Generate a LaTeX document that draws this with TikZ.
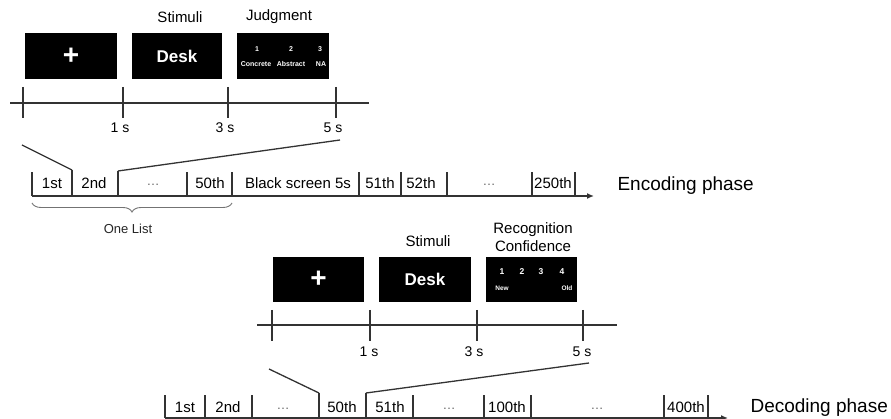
\documentclass[tikz,border=0pt]{standalone}
\usepackage{fontspec}
\setmainfont{Liberation Sans}
\usetikzlibrary{arrows.meta,decorations.pathreplacing}
\tikzset{
  screen/.style={fill=black, text=white, font=\bfseries\fontsize{17}{20}\selectfont,
    minimum width=92pt, minimum height=46pt, inner sep=0pt},
  crosstext/.style={text=white, font=\bfseries\fontsize{28}{28}\selectfont},
  heading/.style={font=\fontsize{15}{18}\selectfont, align=center},
  celltext/.style={font=\fontsize{15}{18}\selectfont},
  seclabel/.style={font=\fontsize{14}{17}\selectfont},
  phase/.style={font=\fontsize{19}{22}\selectfont, anchor=west},
  keytext/.style={text=white, font=\bfseries\fontsize{7}{9}\selectfont, inner sep=0pt},
  timeaxis/.style={draw=black!80, line width=1.7pt},
  barline/.style={draw=black!80, line width=1.6pt},
  zoomline/.style={draw=black!80, line width=1.3pt},
  dotstext/.style={font=\fontsize{13}{15}\selectfont, text=black!60},
  listbrace/.style={draw=black!55, line width=0.9pt,
    decorate, decoration={brace, amplitude=9pt, mirror}}
}
\begin{document}
\begin{tikzpicture}[x=1pt,y=-1pt]
  \useasboundingbox (0,0) rectangle (891,419);

  \node[heading] at (180,17) (stimA) {Stimuli};
  \node[heading] at (279,17) (judgA) {Judgment};
  \node[screen] at (71,56) (fixA) {};
  \node[crosstext] at (fixA) (plusA) {+};
  \node[screen, minimum width=90pt] at (177,56) (wordA) {Desk};
  \node[screen] at (283,56) (rateA) {};
  \node[keytext] at (257,49) (jA1) {1};
  \node[keytext] at (291,49) (jA2) {2};
  \node[keytext] at (320,49) (jA3) {3};
  \node[keytext] at (256,64) (jA4) {Concrete};
  \node[keytext] at (291,64) (jA5) {Abstract};
  \node[keytext] at (321,64) (jA6) {NA};

  \coordinate (tlA0) at (10,103);
  \coordinate (tlA1) at (369,103);
  \draw[timeaxis] (tlA0) -- (tlA1);
  \foreach \x in {23,123,228,336}
    \draw[timeaxis] (\x,103) ++(0,-16) -- ++(0,31);
  \node[seclabel] at (120,128) (sA1) {1 s};
  \node[seclabel] at (225,128) (sA3) {3 s};
  \node[seclabel] at (333,128) (sA5) {5 s};

  \coordinate (barA0) at (32,196);
  \coordinate (barA1) at (594,196);
  \draw[barline, -{Latex[length=7pt,width=6pt]}] (barA0) -- (barA1);
  \foreach \x in {32,187,232,359,401,447,532,575}
    \draw[barline] (\x,196) -- ++(0,-24);
  \coordinate (zA1) at (22,145);
  \coordinate (zA2) at (72,170);
  \coordinate (zA3) at (72,196);
  \coordinate (zA4) at (118,196);
  \coordinate (zA5) at (118,171);
  \coordinate (zA6) at (340,140);
  \draw[zoomline] (zA1) -- (zA2);
  \draw[barline] (zA2) -- (zA3);
  \draw[barline] (zA4) -- (zA5);
  \draw[zoomline] (zA5) -- (zA6);
  \foreach \x/\t in {52/1st,94/2nd,210/50th,298/Black screen 5s,380/51th,421/52th,553/250th}
    \node[celltext] at (\x,183) (cA\x) {\t};
  \node[dotstext] at (153,185) (eA1) {\dots};
  \node[dotstext] at (489,185) (eA2) {\dots};
  \node[phase] at (614,186) (enc) {Encoding phase};

  \draw[listbrace] (32,203) -- (232,203);
  \node[font=\fontsize{13}{15}\selectfont, text=black!85] at (128,229) (list) {One List};

  \node[heading] at (428,241) (stimB) {Stimuli};
  \node[heading] at (533,237) (recog) {Recognition\\Confidence};
  \node[screen, minimum width=91pt, minimum height=45pt] at (318.5,279.5) (fixB) {};
  \node[crosstext] at (fixB) (plusB) {+};
  \node[screen, minimum height=45pt] at (425,279.5) (wordB) {Desk};
  \node[screen, minimum width=91pt, minimum height=45pt] at (531.5,279.5) (rateB) {};
  \node[keytext, font=\bfseries\fontsize{8.5}{10}\selectfont] at (502,272) (rB1) {1};
  \node[keytext, font=\bfseries\fontsize{8.5}{10}\selectfont] at (522,272) (rB2) {2};
  \node[keytext, font=\bfseries\fontsize{8.5}{10}\selectfont] at (541,272) (rB3) {3};
  \node[keytext, font=\bfseries\fontsize{8.5}{10}\selectfont] at (562,272) (rB4) {4};
  \node[keytext, font=\bfseries\fontsize{6.5}{8}\selectfont] at (502,288) (rB5) {New};
  \node[keytext, font=\bfseries\fontsize{6.5}{8}\selectfont] at (567,288) (rB6) {Old};

  \coordinate (tlB0) at (257,325);
  \coordinate (tlB1) at (617,325);
  \draw[timeaxis] (tlB0) -- (tlB1);
  \foreach \x in {272,370,477,583}
    \draw[timeaxis] (\x,325) ++(0,-15) -- ++(0,31);
  \node[seclabel] at (369,352) (sB1) {1 s};
  \node[seclabel] at (474,352) (sB3) {3 s};
  \node[seclabel] at (582,352) (sB5) {5 s};

  \coordinate (barB0) at (165,418);
  \coordinate (barB1) at (728,418);
  \draw[barline, -{Latex[length=7pt,width=6pt]}] (barB0) -- (barB1);
  \foreach \x in {165,205,252,413,484,531,664,708}
    \draw[barline] (\x,418) -- ++(0,-23);
  \coordinate (zB1) at (269,369);
  \coordinate (zB2) at (319,393);
  \coordinate (zB3) at (319,418);
  \coordinate (zB4) at (366,418);
  \coordinate (zB5) at (366,393);
  \coordinate (zB6) at (589,363);
  \draw[zoomline] (zB1) -- (zB2);
  \draw[barline] (zB2) -- (zB3);
  \draw[barline] (zB4) -- (zB5);
  \draw[zoomline] (zB5) -- (zB6);
  \foreach \x/\t in {185/1st,228/2nd,342/50th,390/51th,507/100th,686/400th}
    \node[celltext] at (\x,407) (cB\x) {\t};
  \node[dotstext] at (283,409) (eB1) {\dots};
  \node[dotstext] at (449,409) (eB2) {\dots};
  \node[dotstext] at (597,409) (eB3) {\dots};
  \node[phase] at (747,408) (dec) {Decoding phase};
\end{tikzpicture}
\end{document}
